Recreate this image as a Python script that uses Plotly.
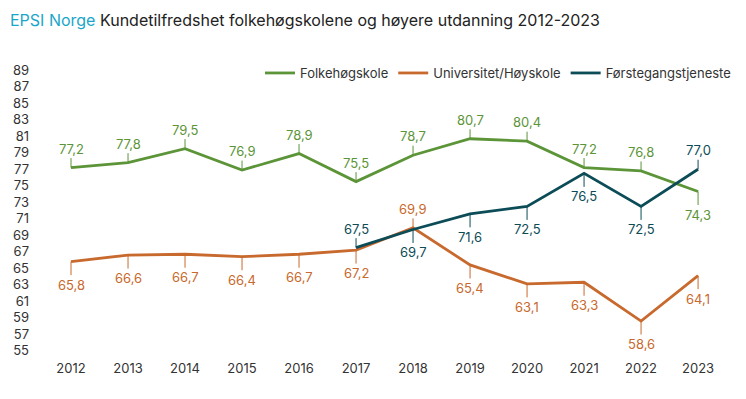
import plotly.graph_objects as go

years = [2012, 2013, 2014, 2015, 2016, 2017, 2018, 2019, 2020, 2021, 2022, 2023]
folkehogskole = [77.2, 77.8, 79.5, 76.9, 78.9, 75.5, 78.7, 80.7, 80.4, 77.2, 76.8, 74.3]
universitet = [65.8, 66.6, 66.7, 66.4, 66.7, 67.2, 69.9, 65.4, 63.1, 63.3, 58.6, 64.1]
forstegang = [None, None, None, None, None, 67.5, 69.7, 71.6, 72.5, 76.5, 72.5, 77.0]
y_ticks = list(range(55, 90, 2))

# label placement: -1 above, +1 below
folk_side = [-1] * 11 + [1]
univ_side = [1] * 6 + [-1] + [1] * 5
forst_side = [None] * 5 + [-1, 1, 1, 1, 1, 1, -1]

GREEN = "#5C9438"
ORANGE = "#C8692E"
TEAL = "#0C4C57"
FONT = "Inter"

W, H = 746, 399
L, R, T, B = 40, 20, 62, 40

fig = go.Figure()
series = [
    ("Folkehøgskole", folkehogskole, GREEN, folk_side),
    ("Universitet/Høyskole", universitet, ORANGE, univ_side),
    ("Førstegangstjeneste", forstegang, TEAL, forst_side),
]
for name, vals, col, sides in series:
    fig.add_trace(go.Scatter(x=years, y=vals, mode="lines", name=name,
                             line=dict(color=col, width=2.8), connectgaps=False))
    for yr, v, s in zip(years, vals, sides):
        if v is None:
            continue
        ay = -19 if s < 0 else 23
        fig.add_annotation(x=yr, y=v, text=f"{v:.1f}".replace(".", ","),
                           showarrow=True, arrowhead=0, arrowwidth=1, arrowcolor=col,
                           ax=0, ay=ay, standoff=0, startstandoff=0,
                           font=dict(family=FONT, size=13, color=col))

pw = W - L - R
ph = H - T - B
fig.add_annotation(
    text="<span style='color:#1AA6C9'>EPSI Norge</span> Kundetilfredshet folkehøgskolene og høyere utdanning 2012-2023",
    xref="paper", yref="paper", x=(8 - L) / pw, y=(H - B - 20) / ph,
    xanchor="left", yanchor="middle", showarrow=False,
    font=dict(family=FONT, size=16, color="#222222"))

fig.update_layout(
    width=W, height=H,
    margin=dict(l=L, r=R, t=T, b=B, autoexpand=False),
    paper_bgcolor="white", plot_bgcolor="white",
    font=dict(family=FONT, size=13, color="#333333"),
    legend=dict(orientation="h", xref="container", x=736 / W, xanchor="right",
                yref="paper", y=(H - B - 73) / ph, yanchor="middle",
                font=dict(family=FONT, size=13, color="#333333"), bgcolor="rgba(0,0,0,0)"),
    showlegend=True,
)
fig.update_xaxes(range=[2011.456, 2023.49], tickvals=years, ticktext=[str(y) for y in years],
                 showgrid=False, zeroline=False, showline=False, ticks="", automargin=False,
                 tickfont=dict(family=FONT, size=13, color="#333333"))
fig.update_yaxes(range=[54, 90], tickvals=y_ticks, showgrid=False, zeroline=False,
                 showline=False, ticks="", automargin=False, ticklabelstandoff=10,
                 tickfont=dict(family=FONT, size=13, color="#333333"))

fig.write_html("out.html", config={"displayModeBar": False},
               post_script="document.body.style.margin='0';")
